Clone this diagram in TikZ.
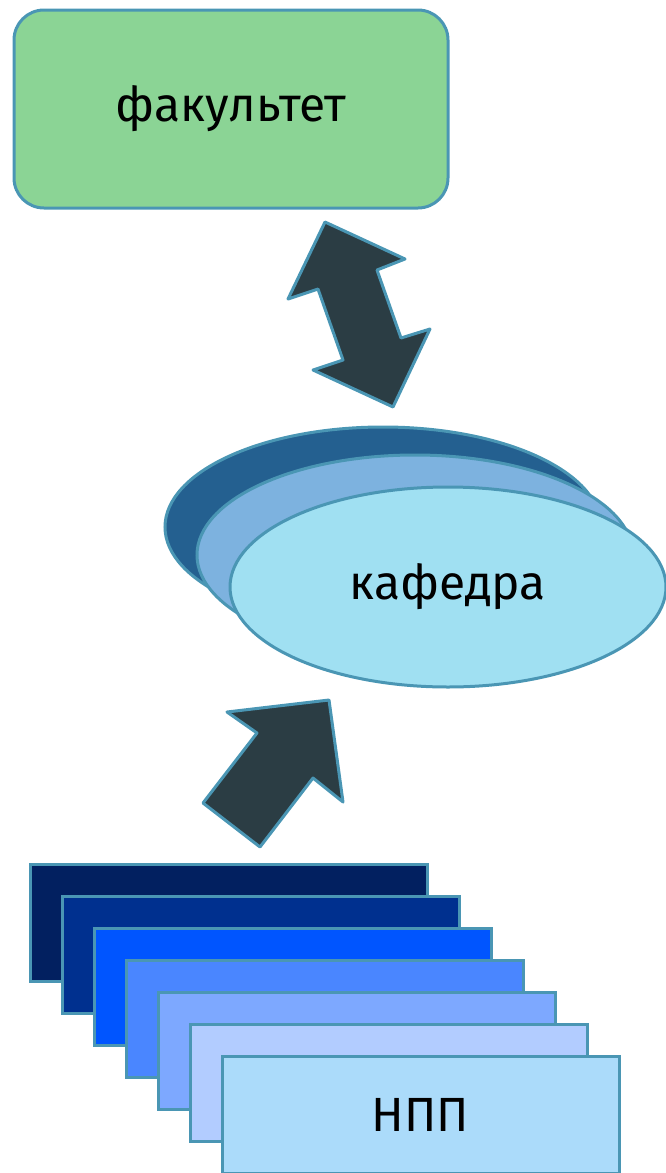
\documentclass[tikz,border=0pt]{standalone}
\usepackage{fontspec}
\setmainfont{Fira Sans}
\usetikzlibrary{shapes.geometric}

\definecolor{rim}{RGB}{74,150,180}
\definecolor{fakgreen}{RGB}{139,212,149}
\definecolor{arrowfill}{RGB}{43,61,68}
\definecolor{kafA}{RGB}{36,96,144}
\definecolor{kafB}{RGB}{125,178,223}
\definecolor{kafC}{RGB}{160,224,242}
\definecolor{nppA}{RGB}{2,32,96}
\definecolor{nppB}{RGB}{0,48,143}
\definecolor{nppC}{RGB}{0,85,255}
\definecolor{nppD}{RGB}{74,134,255}
\definecolor{nppE}{RGB}{125,168,255}
\definecolor{nppF}{RGB}{178,204,255}
\definecolor{nppG}{RGB}{171,219,250}

\tikzset{
  box/.style={draw=rim, line width=3pt},
  kaf/.style={box, ellipse, inner sep=0pt, minimum width=436pt, minimum height=200pt},
  npp/.style={box, inner sep=0pt, minimum width=397pt, minimum height=117pt},
  bigarrow/.style={draw=rim, fill=arrowfill, line width=3pt, line join=round}
}

\begin{document}
\begin{tikzpicture}[x=1pt,y=-1pt,font=\fontsize{48}{56}\selectfont]
\useasboundingbox (0,0) rectangle (666,1173);

\node[box, fill=fakgreen, rounded corners=30pt, minimum width=434pt, minimum height=198pt] (fak) at (231,109) {факультет};

% double arrow
\draw[bigarrow] (325,222) -- (405,259) -- (377,270) -- (401,338) -- (430,329)
  -- (393,407) -- (313,370) -- (343,360) -- (318,289) -- (288,299) -- cycle;

\node[kaf, fill=kafA] (kaf1) at (383,527) {};
\node[kaf, fill=kafB] (kaf2) at (415,555) {};
\node[kaf, fill=kafC] (kaf3) at (448,587) {кафедра};

% single arrow
\draw[bigarrow] (329,700) -- (343,802) -- (313,778) -- (260,847) -- (203,803)
  -- (257,733) -- (227,712) -- cycle;

\foreach \c [count=\i] in {nppA,nppB,nppC,nppD,nppE,nppF}
  \node[npp, fill=\c] (npp\i) at (196.5+32*\i, 890.5+32*\i) {};
\node[npp, fill=nppG] (npp7) at (420.5,1114.5) {НПП};
\end{tikzpicture}
\end{document}
